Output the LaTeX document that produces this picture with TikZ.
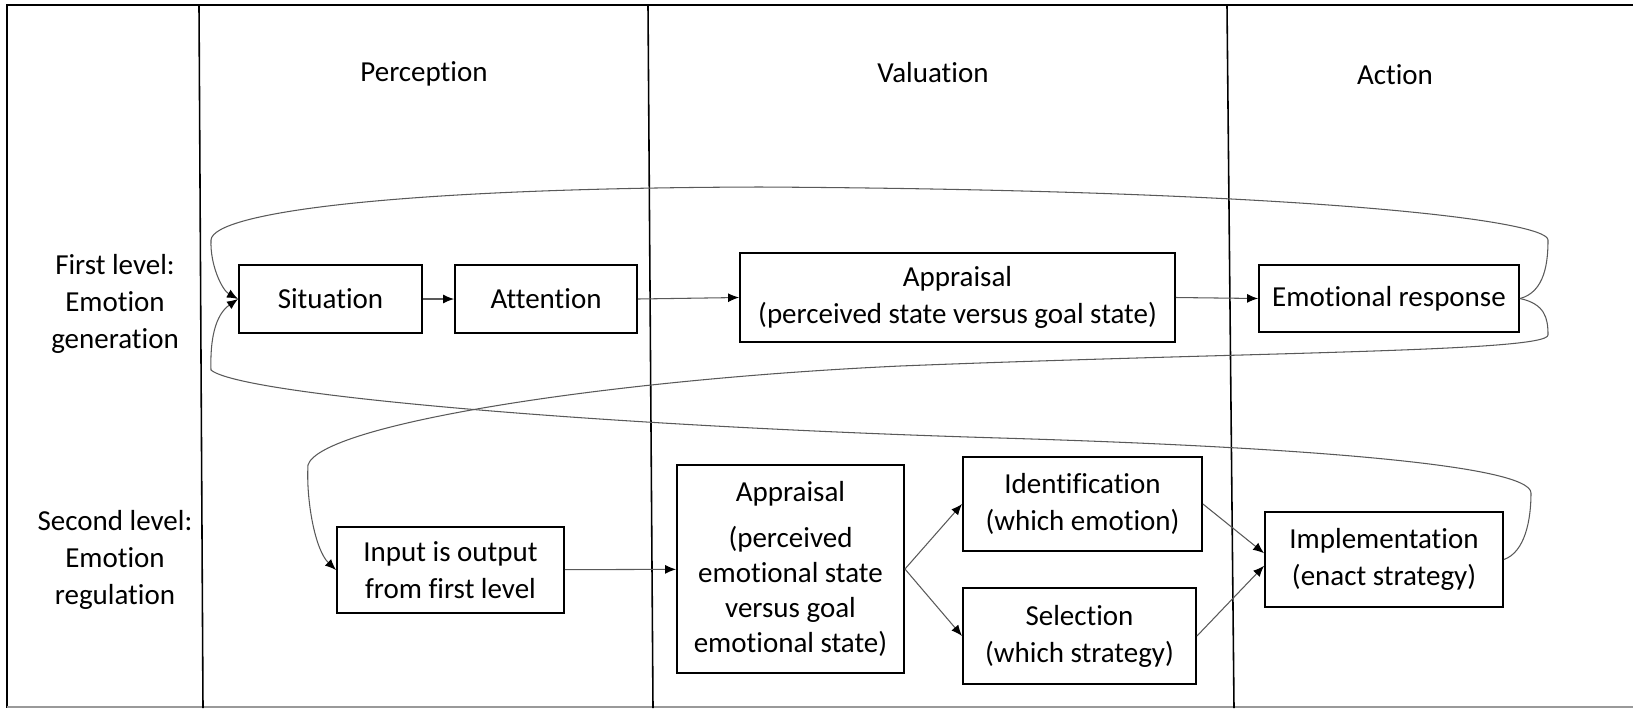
\documentclass[tikz,border=0pt]{standalone}
\usepackage{fontspec}
\setmainfont{Carlito}[Ligatures={NoCommon}]
\usetikzlibrary{arrows.meta}

\begin{document}
\begin{tikzpicture}[
    x=0.02cm, y=-0.02cm,
    font=\fontsize{16.5}{21}\selectfont,
    box/.style={draw, line width=1.1pt, align=center, inner sep=2pt},
    arrow/.style={draw=black!65, line width=0.6pt, -{Latex[length=2.2mm, width=1.8mm, color=black]}},
    column/.style={line width=0.9pt}
]
\useasboundingbox (0, 0) rectangle (1633, 708);
\draw[line width=1.6pt] (1633, 5) -- (7, 5) -- (7, 708);
\draw[black!40, line width=0.6pt] (7, 707) -- (1633, 707);
\draw[column] (199, 6) -- (203, 708);
\draw[column] (648, 6) -- (653, 708);
\draw[column] (1227, 6) -- (1234, 708);

\node (perc) at (424, 74) {Perception};
\node (valu) at (933, 73) {Valuation};
\node (actn) at (1395, 75) {Action};
\node[align=center] (first) at (115, 304) {First level:\\Emotion\\generation};
\node[align=center] (second) at (115, 560) {Second level:\\Emotion\\regulation};

\node[box, minimum width=3.66cm, minimum height=1.36cm] (sit) at (330.5, 299) {Situation};
\node[box, minimum width=3.64cm, minimum height=1.36cm] (att) at (546, 299) {Attention};
\node[box, minimum width=8.7cm, minimum height=1.78cm] (app) at (957.5, 297.5) {Appraisal\\(perceived state versus goal state)};
\node[box, minimum width=5.2cm, minimum height=1.34cm] (emo) at (1389, 298.5) {Emotional response};
\node[box, minimum width=4.54cm, minimum height=1.72cm] (inp) at (450.5, 570) {Input is output\\from first level};
\node[box, minimum width=4.54cm, minimum height=4.16cm, font=\fontsize{16.5}{20}\selectfont] (val) at (790.5, 569) {Appraisal\\[6pt](perceived\\emotional state\\versus goal\\emotional state)};
\node[box, minimum width=4.78cm, minimum height=1.88cm] (idf) at (1082.5, 504) {Identification\\(which emotion)};
\node[box, minimum width=4.66cm, minimum height=1.92cm] (sel) at (1079.5, 636) {Selection\\(which strategy)};
\node[box, minimum width=4.76cm, minimum height=1.9cm] (imp) at (1384, 559.5) {Implementation\\(enact strategy)};

\draw[arrow] (sit) -- (att);
\draw[arrow] (att.east) -- (app.west);
\draw[arrow] (app.east) -- (emo.west);
\draw[arrow] (inp) -- (val);
\draw[arrow] (val.east) -- (idf.west);
\draw[arrow] (val.east) -- (sel.west);
\draw[arrow] (idf.east) -- (imp.177);
\draw[arrow] (sel.east) -- (imp.183);

\draw[arrow] (emo.east) .. controls (1545, 292) and (1548, 262) .. (1548, 240)
    .. controls (1548, 220) and (1300, 190) .. (760, 187)
    .. controls (400, 188) and (213, 212) .. (211, 240)
    .. controls (210, 265) and (222, 290) .. (sit.west);
\draw[arrow] (emo.east) .. controls (1545, 304) and (1548, 318) .. (1548, 335)
    .. controls (1548, 352) and (1250, 352) .. (900, 366)
    .. controls (600, 380) and (320, 425) .. (308, 465)
    .. controls (306, 500) and (315, 550) .. (inp.west);
\draw[arrow] (imp.east) .. controls (1525, 552) and (1531, 520) .. (1531, 493)
    .. controls (1531, 465) and (1300, 447) .. (1000, 438)
    .. controls (600, 426) and (240, 395) .. (211, 370)
    .. controls (210, 340) and (215, 315) .. (sit.west);
\end{tikzpicture}
\end{document}
